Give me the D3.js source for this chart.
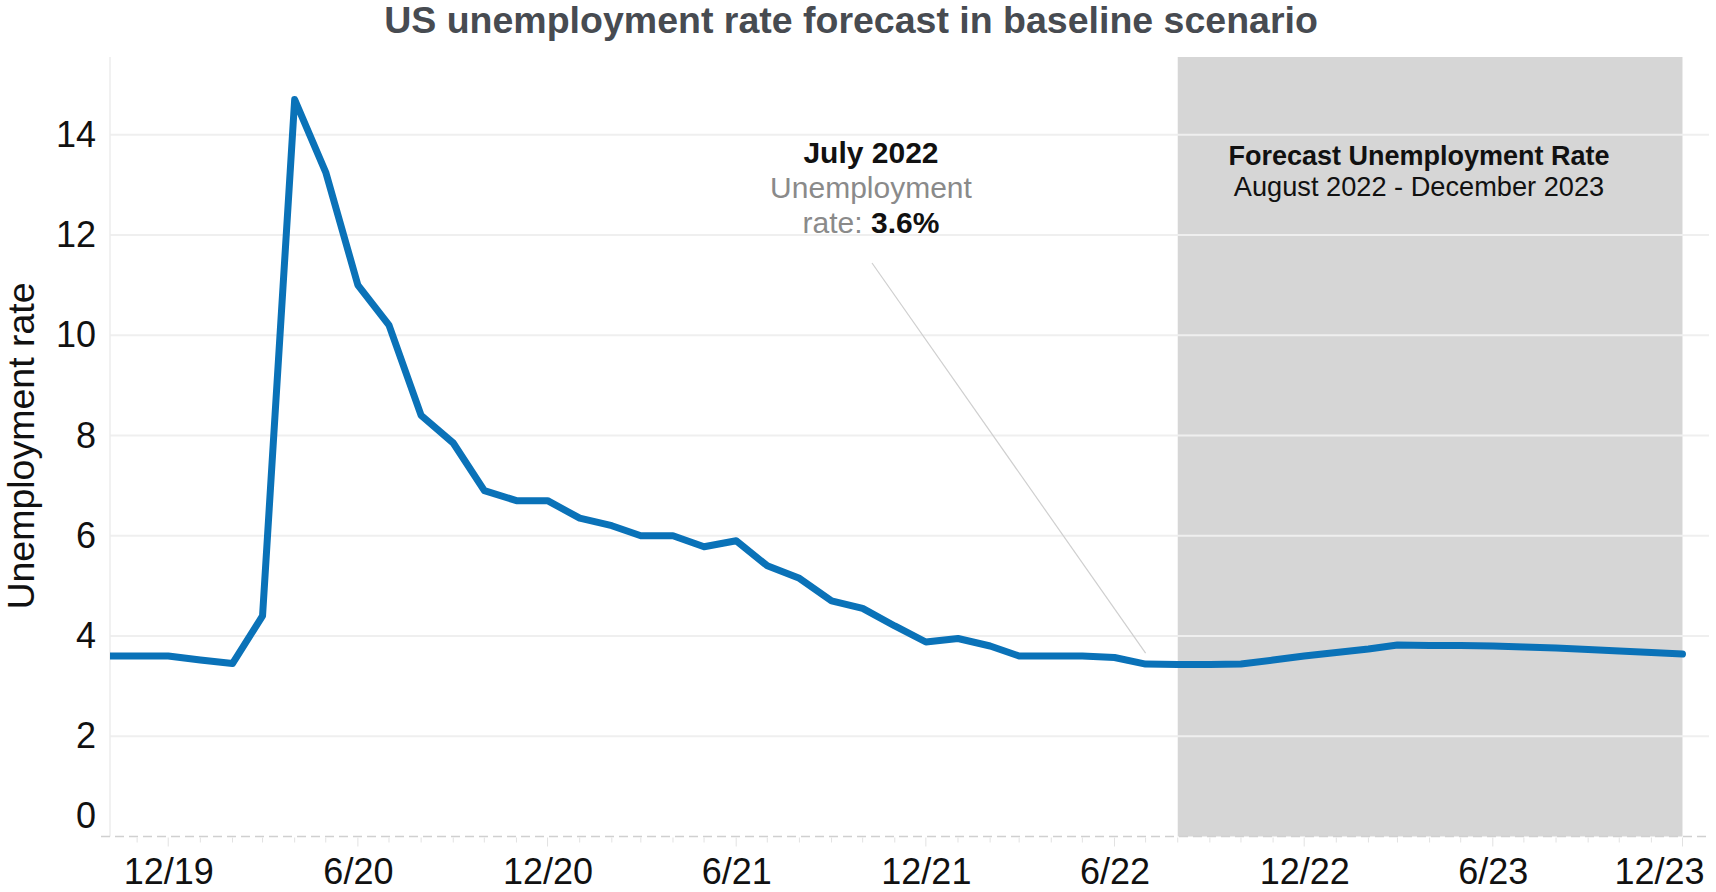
<!DOCTYPE html>
<html>
<head>
<meta charset="utf-8">
<script src="https://cdn.jsdelivr.net/npm/d3@7"></script>
<style>
  html, body { margin: 0; padding: 0; background: #ffffff; }
  svg { display: block; font-family: "Liberation Sans", Arial, sans-serif; }
</style>
</head>
<body>
<svg id="chart" width="1716" height="892"></svg>
<script>
// ---------------- DATA ----------------
const chartTitle = "US unemployment rate forecast in baseline scenario";
const yAxisTitle = "Unemployment rate";

// Actual monthly unemployment rate (%), Oct 2019 - Jul 2022
const actualMonths = [
  "2019-10","2019-11","2019-12",
  "2020-01","2020-02","2020-03","2020-04","2020-05","2020-06",
  "2020-07","2020-08","2020-09","2020-10","2020-11","2020-12",
  "2021-01","2021-02","2021-03","2021-04","2021-05","2021-06",
  "2021-07","2021-08","2021-09","2021-10","2021-11","2021-12",
  "2022-01","2022-02","2022-03","2022-04","2022-05","2022-06","2022-07"
];
const actualRate = [
  3.6, 3.6, 3.6,
  3.52, 3.45, 4.4, 14.7, 13.25, 11.0,
  10.2, 8.4, 7.85, 6.9, 6.7, 6.7,
  6.35, 6.2, 6.0, 6.0, 5.78, 5.9,
  5.4, 5.15, 4.7, 4.55, 4.2, 3.88,
  3.95, 3.8, 3.6, 3.6, 3.6, 3.57, 3.44
];

// Baseline forecast (%), Aug 2022 - Dec 2023
const forecastMonths = [
  "2022-08","2022-09","2022-10","2022-11","2022-12",
  "2023-01","2023-02","2023-03","2023-04","2023-05","2023-06",
  "2023-07","2023-08","2023-09","2023-10","2023-11","2023-12"
];
const forecastRate = [
  3.43, 3.43, 3.44, 3.52, 3.6,
  3.67, 3.74, 3.82, 3.81, 3.81, 3.8,
  3.78, 3.76, 3.73, 3.7, 3.67, 3.64
];

const yTickValues = [0, 2, 4, 6, 8, 10, 12, 14];
const xTickMonths = ["2019-12","2020-06","2020-12","2021-06","2021-12","2022-06","2022-12","2023-06","2023-12"];

const forecastStart = "2022-08";
const forecastEnd = "2023-12";

const annotationMonth = "2022-07";
const annotationTitle = "July 2022";
const annotationLabel1 = "Unemployment";
const annotationLabel2 = "rate: ";
const annotationValue = "3.6%";

const forecastTitle = "Forecast Unemployment Rate";
const forecastSubtitle = "August 2022 - December 2023";

// ---------------- LAYOUT ----------------
const plotLeft = 110, plotRight = 1709, plotTop = 57, plotBottom = 836.5;
const xDomainStart = new Date(2019, 9, 5, 20);
const xDomainEnd = new Date(2023, 11, 26, 14);
const yDomainMax = 15.55;

const parseMonth = d3.timeParse("%Y-%m");
const fmtTick = d3.timeFormat("%-m/%y");

const svg = d3.select("#chart");

const x = d3.scaleTime().domain([xDomainStart, xDomainEnd]).range([plotLeft, plotRight]);
const y = d3.scaleLinear().domain([0, yDomainMax]).range([plotBottom, plotTop]);

// clip path for the plot pane
svg.append("defs").append("clipPath").attr("id", "pane")
  .append("rect")
  .attr("x", plotLeft).attr("y", 0)
  .attr("width", plotRight - plotLeft).attr("height", 892);

// Forecast shaded band
svg.append("rect")
  .attr("x", x(parseMonth(forecastStart)))
  .attr("y", plotTop)
  .attr("width", x(parseMonth(forecastEnd)) - x(parseMonth(forecastStart)))
  .attr("height", plotBottom - plotTop)
  .attr("fill", "#d6d6d6");

// Gridlines
svg.append("g").selectAll("line")
  .data(yTickValues.filter(v => v > 0))
  .join("line")
  .attr("x1", plotLeft).attr("x2", plotRight)
  .attr("y1", d => y(d)).attr("y2", d => y(d))
  .attr("stroke", "#efefef").attr("stroke-width", 2);

// Left axis rule
svg.append("line")
  .attr("x1", plotLeft).attr("x2", plotLeft)
  .attr("y1", plotTop).attr("y2", plotBottom)
  .attr("stroke", "#ececec").attr("stroke-width", 1.5);

// Dashed zero line
svg.append("line")
  .attr("x1", plotLeft - 9).attr("x2", plotRight)
  .attr("y1", y(0)).attr("y2", y(0))
  .attr("stroke", "#d0d0d0").attr("stroke-width", 1.5)
  .attr("stroke-dasharray", "9,5");

// Month ticks
const majorSet = new Set(xTickMonths);
const allMonths = d3.timeMonth.range(new Date(2019, 10, 1), new Date(2024, 0, 1));
svg.append("g").selectAll("line")
  .data(allMonths)
  .join("line")
  .attr("x1", d => x(d)).attr("x2", d => x(d))
  .attr("y1", y(0) + 1)
  .attr("y2", d => y(0) + (majorSet.has(d3.timeFormat("%Y-%m")(d)) ? 10 : 6))
  .attr("stroke", "#e2e2e2").attr("stroke-width", 1);

// X axis labels
const xAxis = d3.axisBottom(x)
  .tickValues(xTickMonths.map(parseMonth))
  .tickFormat(fmtTick)
  .tickSize(0)
  .tickPadding(0);
const gx = svg.append("g")
  .attr("transform", `translate(0,${y(0)})`)
  .call(xAxis);
gx.select(".domain").remove();
gx.selectAll("text")
  .attr("font-family", "Liberation Sans, Arial, sans-serif")
  .attr("font-size", 36)
  .attr("fill", "#111")
  .attr("dy", null)
  .attr("y", 47)
  .each(function(d) {
    const w = this.getComputedTextLength();
    const cx = x(d);
    const maxRight = 1704;
    if (cx + w / 2 > maxRight) {
      d3.select(this).attr("x", maxRight - w / 2 - cx);
    }
  });

// Y axis labels
const yAxis = d3.axisLeft(y).tickValues(yTickValues).tickSize(0).tickPadding(14);
const gy = svg.append("g").attr("transform", `translate(${plotLeft},0)`).call(yAxis);
gy.select(".domain").remove();
gy.selectAll("text")
  .attr("font-family", "Liberation Sans, Arial, sans-serif")
  .attr("font-size", 36)
  .attr("fill", "#111")
  .attr("y", d => d === 0 ? -21 : 0);

// Line (actual + forecast)
const series = actualMonths.map((m, i) => ({ date: parseMonth(m), value: actualRate[i] }))
  .concat(forecastMonths.map((m, i) => ({ date: parseMonth(m), value: forecastRate[i] })));
const lineGen = d3.line().x(d => x(d.date)).y(d => y(d.value));
svg.append("path")
  .datum(series)
  .attr("clip-path", "url(#pane)")
  .attr("d", lineGen)
  .attr("fill", "none")
  .attr("stroke", "#0a72b8")
  .attr("stroke-width", 7)
  .attr("stroke-linejoin", "round")
  .attr("stroke-linecap", "round");

// Annotation leader line
const annDate = parseMonth(annotationMonth);
const annValue = actualRate[actualMonths.indexOf(annotationMonth)];
svg.append("line")
  .attr("x1", 872).attr("y1", 263)
  .attr("x2", x(annDate)).attr("y2", y(annValue) - 11)
  .attr("stroke", "#cfcfcf").attr("stroke-width", 1.2);

// Annotation text
const ann = svg.append("g").attr("text-anchor", "middle");
ann.append("text").attr("x", 871).attr("y", 163)
  .attr("font-size", 30).attr("font-weight", "bold").attr("fill", "#111")
  .text(annotationTitle);
ann.append("text").attr("x", 871).attr("y", 198)
  .attr("font-size", 30).attr("fill", "#8a8a8a")
  .text(annotationLabel1);
const t3 = ann.append("text").attr("x", 871).attr("y", 233).attr("font-size", 30);
t3.append("tspan").attr("fill", "#8a8a8a").text(annotationLabel2);
t3.append("tspan").attr("fill", "#111").attr("font-weight", "bold").text(annotationValue);

// Forecast band text
const fc = svg.append("g").attr("text-anchor", "middle");
const fcX = 1419;
fc.append("text").attr("x", fcX).attr("y", 165)
  .attr("font-size", 27).attr("font-weight", "bold").attr("fill", "#111")
  .text(forecastTitle);
fc.append("text").attr("x", fcX).attr("y", 196)
  .attr("font-size", 27.2).attr("fill", "#111")
  .text(forecastSubtitle);

// Y axis title
svg.append("text")
  .attr("transform", "translate(34,446) rotate(-90)")
  .attr("text-anchor", "middle")
  .attr("font-size", 37.5)
  .attr("fill", "#111")
  .text(yAxisTitle);

// Chart title
svg.append("text")
  .attr("x", 851).attr("y", 33)
  .attr("text-anchor", "middle")
  .attr("font-size", 37.5)
  .attr("font-weight", "bold")
  .attr("fill", "#474b51")
  .text(chartTitle);
</script>
</body>
</html>
